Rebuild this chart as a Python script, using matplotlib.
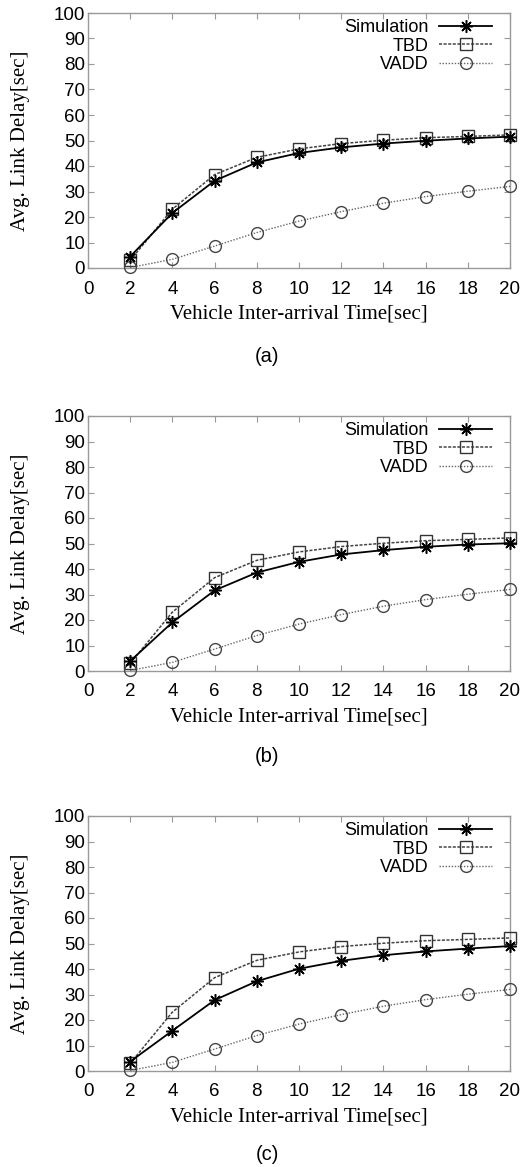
import numpy as np
import matplotlib.pyplot as plt

# data
x = [2, 4, 6, 8, 10, 12, 14, 16, 18, 20]
tbd = [3.0, 23.1, 36.6, 43.4, 46.7, 48.8, 50.1, 51.1, 51.6, 52.2]
vadd = [0.2, 3.4, 8.6, 13.9, 18.4, 22.1, 25.4, 28.0, 30.1, 32.0]
sim_a = [4.5, 21.6, 34.2, 41.4, 45.1, 47.3, 48.8, 49.9, 50.8, 51.5]
sim_b = [3.9, 19.1, 31.6, 38.6, 42.8, 45.7, 47.4, 48.7, 49.6, 50.1]
sim_c = [3.7, 15.8, 27.8, 35.2, 40.1, 43.2, 45.4, 46.9, 48.0, 49.0]
panel_labels = ['(a)', '(b)', '(c)']
xticks = list(range(0, 21, 2))
yticks = list(range(0, 101, 10))

sans = ['Liberation Sans', 'DejaVu Sans']
serif = ['Liberation Serif', 'DejaVu Serif']

fig = plt.figure(figsize=(5.26, 11.67), dpi=100)

# axes boxes in pixels (top, bottom) measured from the top of the image,
# plus the y position of the "(a)" caption under each one
boxes = [(13, 268, 357), (416, 671, 756), (816, 1071, 1154)]
left, right = 88, 510
W, H = 526, 1167

for (top, bot, cap_y), sim, lab in zip(boxes, [sim_a, sim_b, sim_c], panel_labels):
    ax = fig.add_axes([left / W, 1 - bot / H, (right - left) / W, (bot - top) / H])
    ax.plot(x, sim, color='black', lw=1.3, marker=(8, 2, 0), ms=9, mew=1.1,
            label='Simulation', clip_on=False, zorder=4)
    ax.plot(x, tbd, color='#444444', lw=1.1, ls=(0, (2, 1)), marker='s', ms=8,
            mfc='none', mec='#333333', mew=1.0, label='TBD', clip_on=False, zorder=3)
    ax.plot(x, vadd, color='#666666', lw=1.0, ls=(0, (1, 1.2)), marker='o', ms=8.5,
            mfc='none', mec='#444444', mew=1.0, label='VADD', clip_on=False, zorder=3)

    ax.set_xlim(0, 20)
    ax.set_ylim(0, 100)
    ax.set_xticks(xticks)
    ax.set_yticks(yticks)
    ax.tick_params(direction='in', top=True, right=True, length=4, color='#999999',
                   labelsize=13.5)
    ax.tick_params(axis='x', pad=9)
    ax.tick_params(axis='y', pad=2)
    for t in ax.get_xticklabels() + ax.get_yticklabels():
        t.set_family(sans)
    for s in ax.spines.values():
        s.set_color('#999999')
        s.set_linewidth(1.0)

    ax.set_xlabel('Vehicle Inter-arrival Time[sec]', family=serif, fontsize=15,
                  labelpad=5)
    ax.set_ylabel('Avg. Link Delay[sec]', family=serif, fontsize=15, labelpad=17)

    leg = ax.legend(loc='upper right', bbox_to_anchor=(0.957, 0.977), frameon=False,
                    markerfirst=False, prop={'family': sans, 'size': 13},
                    handlelength=2.9, handletextpad=0.6, labelspacing=0.1,
                    borderaxespad=0, borderpad=0)
    for t in leg.get_texts():
        t.set_ha('right')

    fig.text(267 / W, 1 - cap_y / H, lab, family=sans, fontsize=14.5,
             ha='center', va='center')

fig.savefig('out.png', dpi=100)
